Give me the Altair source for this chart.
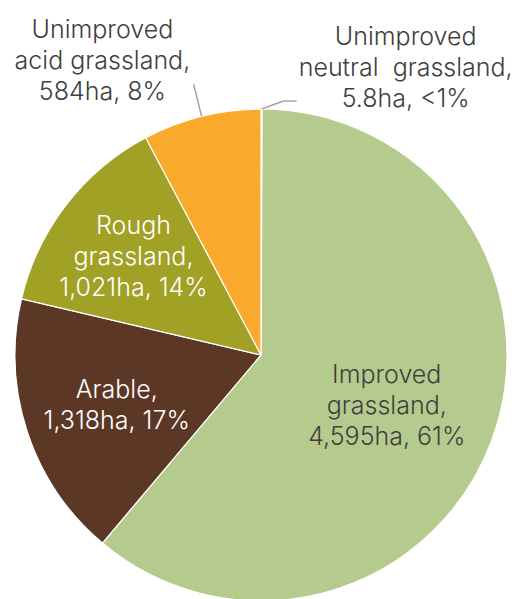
import altair as alt
import pandas as pd

categories = ["Unimproved neutral grassland", "Improved grassland", "Arable",
              "Rough grassland", "Unimproved acid grassland"]
hectares = [5.8, 4595, 1318, 1021, 584]
labels = [
    "Unimproved\nneutral\u00a0 grassland,\n5.8ha, <1%",
    "Improved\ngrassland,\n4,595ha, 61%",
    "Arable,\n1,318ha, 17%",
    "Rough\ngrassland,\n1,021ha, 14%",
    "Unimproved\nacid grassland,\n584ha, 8%",
]
colors = ["#E4ECD6", "#B5CB8E", "#5C3726", "#A0A125", "#F9A92B"]

df = pd.DataFrame({"cat": categories, "ha": hectares, "label": labels,
                   "idx": list(range(len(categories)))})

CX, CY, R = 253, 347, 246
FONT = "Inter"
LH = 31
DARK = "#404040"

base = alt.Chart(df)

theta = alt.Theta("ha:Q", stack=True)
order = alt.Order("idx:Q", sort="ascending")

arcs = base.mark_arc(stroke="white", strokeWidth=1.2).encode(
    theta=theta,
    order=order,
    color=alt.Color("cat:N", scale=alt.Scale(domain=categories, range=colors), legend=None),
    x=alt.value(CX), y=alt.value(CY), radius=alt.value(R),
)


def label_layer(cat, nlines, radius, size, dx=0, dy=0, color="white"):
    return base.mark_text(
        font=FONT, fontSize=size, fontWeight=300, lineBreak="\n", lineHeight=LH,
        align="center", baseline="middle", radius=radius, dx=dx,
        dy=dy - (nlines - 1) * LH / 2, color=color,
    ).encode(
        theta=theta,
        order=order,
        x=alt.value(CX), y=alt.value(CY),
        text=alt.condition(alt.datum.cat == cat, alt.Text("label:N"), alt.value("")),
    )


inside = [
    label_layer("Improved grassland", 3, 134, 25, dy=5, color=DARK),
    label_layer("Arable", 2, 152, 25, dy=3),
    label_layer("Rough grassland", 3, 161, 25),
]
outside = [
    label_layer("Unimproved acid grassland", 3, 280, 25, dx=-91, dy=-22, color=DARK),
    label_layer("Unimproved neutral grassland", 3, 280, 25, dx=144, dy=-7, color=DARK),
]

geo = base.transform_joinaggregate(total="sum(ha)").transform_window(
    cum="sum(ha)", sort=[alt.SortField("idx")], frame=[None, 0]
).transform_calculate(
    mid="(datum.cum - datum.ha/2)/datum.total*2*PI"
)

acid_leader = geo.transform_filter(alt.datum.cat == "Unimproved acid grassland").transform_calculate(
    x0=f"{CX} + {R}*sin(datum.mid)", y0=f"{CY} - {R}*cos(datum.mid)",
    x1=f"{CX} + 279*sin(datum.mid)", y1=f"{CY} - 279*cos(datum.mid)",
).mark_rule(color="#A6A6A6", strokeWidth=1.5).encode(
    x=alt.X("x0:Q", scale=None), y=alt.Y("y0:Q", scale=None),
    x2="x1:Q", y2="y1:Q",
)

neutral_geo = geo.transform_filter(alt.datum.cat == "Unimproved neutral grassland").transform_calculate(
    x0=f"{CX} + {R}*sin(datum.mid)", y0=f"{CY} - {R}*cos(datum.mid)",
).transform_calculate(
    x1="datum.x0 + 22", y1="datum.y0 - 8",
).transform_calculate(
    x2="datum.x1 + 13",
)

neutral_leader1 = neutral_geo.mark_rule(color="#A6A6A6", strokeWidth=1.5).encode(
    x=alt.X("x0:Q", scale=None), y=alt.Y("y0:Q", scale=None),
    x2="x1:Q", y2="y1:Q",
)
neutral_leader2 = neutral_geo.mark_rule(color="#A6A6A6", strokeWidth=1.5).encode(
    x=alt.X("x1:Q", scale=None), y=alt.Y("y1:Q", scale=None),
    x2="x2:Q", y2="y1:Q",
)

chart = alt.layer(
    arcs, *inside, *outside, acid_leader, neutral_leader1, neutral_leader2
).properties(
    width=507, height=591, autosize="none", padding=0, background="white"
).configure_view(stroke=None)

chart.save("out.html", embed_options={"renderer": "svg", "actions": False})
